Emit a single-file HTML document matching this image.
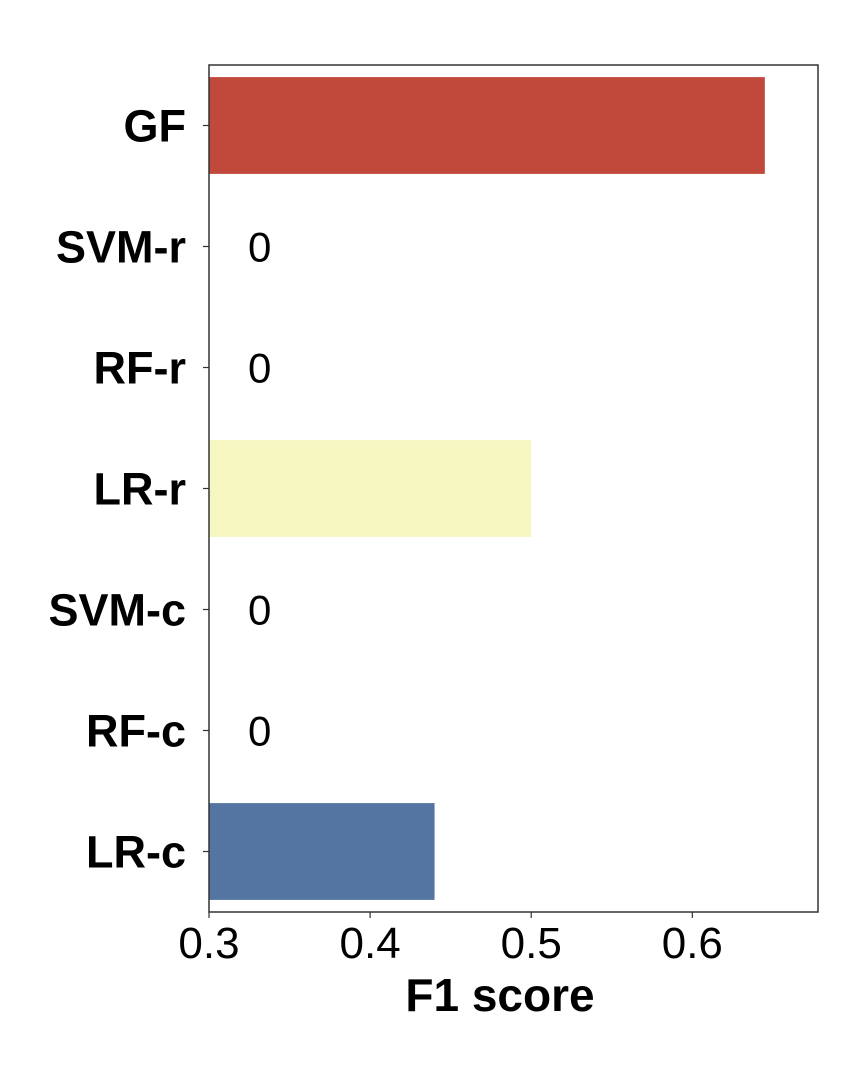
<!DOCTYPE html>
<html><head><meta charset="utf-8"><style>
html,body{margin:0;padding:0;background:#fff;}
svg text{font-family:"Liberation Sans",sans-serif;}
</style></head><body>
<svg id="chart" width="860" height="1064" xmlns="http://www.w3.org/2000/svg">
<g id="bars"></g>
<g id="yaxis"></g>
<g id="xaxis"></g>
<rect x="209" y="65" width="609" height="847" fill="none" stroke="#333" stroke-width="1.5"/>
<text x="500" y="1011" text-anchor="middle" font-size="46" font-weight="bold">F1 score</text>
</svg>
<script>
const categories = ["GF","SVM-r","RF-r","LR-r","SVM-c","RF-c","LR-c"];
const values = [0.645, 0, 0, 0.5, 0, 0, 0.44];
const colors = ["#c1493b","#ffffff","#ffffff","#f6f6c0","#ffffff","#ffffff","#5475a2"];
const xTicks = [0.3, 0.4, 0.5, 0.6];
const xTickLabels = ["0.3","0.4","0.5","0.6"];
const xMin = 0.3, xMax = 0.678;
const L = 209, R = 818, T = 65, B = 912;
const ns = "http://www.w3.org/2000/svg";
function xs(v){ return L + (v - xMin) / (xMax - xMin) * (R - L); }
const band = (B - T) / categories.length;
function yc(i){ return T + band * (i + 0.5); }
const barsG = document.getElementById('bars');
const yG = document.getElementById('yaxis');
const xG = document.getElementById('xaxis');
categories.forEach((c, i) => {
  const v = values[i];
  if (v > xMin) {
    const r = document.createElementNS(ns, 'rect');
    
    
    r.setAttribute('x', L);
    r.setAttribute('y', yc(i) - band * 0.4);
    r.setAttribute('width', xs(v) - L);
    r.setAttribute('height', band * 0.8);
    r.setAttribute('fill', colors[i]);
    barsG.appendChild(r);
  } else {
    const t = document.createElementNS(ns, 'text');
    
    
    t.setAttribute('x', 248);
    t.setAttribute('y', yc(i) + 15);
    t.setAttribute('font-size', '42');
    t.textContent = String(v);
    barsG.appendChild(t);
  }
  const tk = document.createElementNS(ns, 'line');
  
  
  tk.setAttribute('x1', L - 6); tk.setAttribute('x2', L);
  tk.setAttribute('y1', yc(i)); tk.setAttribute('y2', yc(i));
  tk.setAttribute('stroke', '#333'); tk.setAttribute('stroke-width', '1.2');
  yG.appendChild(tk);
  const lb = document.createElementNS(ns, 'text');
  
  
  lb.setAttribute('x', 186);
  lb.setAttribute('y', yc(i) + 16);
  lb.setAttribute('text-anchor', 'end');
  lb.setAttribute('font-size', '45');
  lb.setAttribute('font-weight', 'bold');
  lb.textContent = c;
  yG.appendChild(lb);
});
xTicks.forEach((v, i) => {
  const tk = document.createElementNS(ns, 'line');
  
  
  tk.setAttribute('x1', xs(v)); tk.setAttribute('x2', xs(v));
  tk.setAttribute('y1', B); tk.setAttribute('y2', B + 6);
  tk.setAttribute('stroke', '#333'); tk.setAttribute('stroke-width', '1.2');
  xG.appendChild(tk);
  const lb = document.createElementNS(ns, 'text');
  
  
  lb.setAttribute('x', xs(v));
  lb.setAttribute('y', 958);
  lb.setAttribute('text-anchor', 'middle');
  lb.setAttribute('font-size', '44');
  lb.textContent = xTickLabels[i];
  xG.appendChild(lb);
});
</script>
</body></html>
